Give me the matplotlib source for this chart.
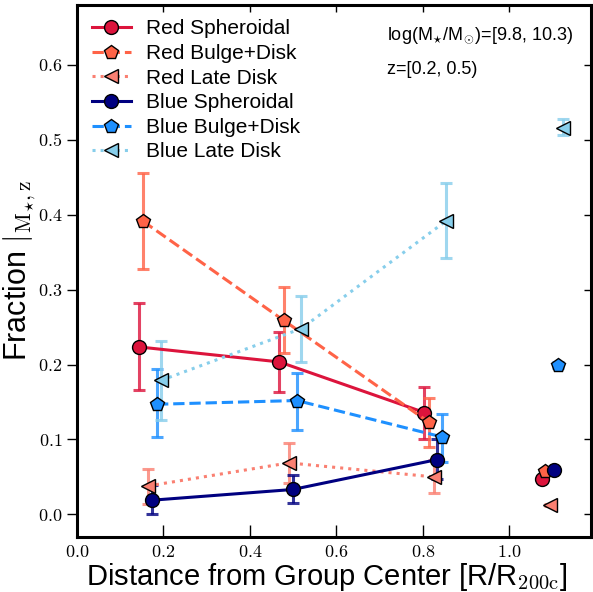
import matplotlib
matplotlib.use("Agg")
import matplotlib.pyplot as plt
from matplotlib.ticker import FuncFormatter, MultipleLocator

plt.rcParams["font.family"] = ["Liberation Sans", "DejaVu Sans"]
plt.rcParams["mathtext.fontset"] = "cm"

# Group-member bins (R/R200c) and fractions with error bounds
red_sph_x = [0.143, 0.468, 0.804]
red_sph_y = [0.2235, 0.2035, 0.136]
red_sph_lo = [0.166, 0.163, 0.100]
red_sph_hi = [0.282, 0.2435, 0.170]

red_bd_x = [0.153, 0.478, 0.815]
red_bd_y = [0.391, 0.259, 0.1227]
red_bd_lo = [0.327, 0.215, 0.090]
red_bd_hi = [0.456, 0.303, 0.155]

red_late_x = [0.164, 0.490, 0.827]
red_late_y = [0.038, 0.0688, 0.050]
red_late_lo = [0.0137, 0.042, 0.029]
red_late_hi = [0.060, 0.0947, 0.072]

blue_sph_x = [0.173, 0.499, 0.834]
blue_sph_y = [0.019, 0.0333, 0.0733]
blue_sph_lo = [0.0, 0.0147, 0.047]
blue_sph_hi = [0.039, 0.052, 0.101]

blue_bd_x = [0.185, 0.509, 0.844]
blue_bd_y = [0.147, 0.152, 0.1035]
blue_bd_lo = [0.103, 0.113, 0.070]
blue_bd_hi = [0.194, 0.189, 0.134]

blue_late_x = [0.195, 0.519, 0.855]
blue_late_y = [0.179, 0.248, 0.392]
blue_late_lo = [0.126, 0.2035, 0.342]
blue_late_hi = [0.232, 0.292, 0.442]

# Field values, shown to the right of the group bins
field_x = [1.075, 1.083, 1.095, 1.104, 1.114, 1.125]
field_y = [0.047, 0.058, 0.0124, 0.059, 0.199, 0.516]
field_lo = [0.045, 0.056, 0.0110, 0.057, 0.195, 0.506]
field_hi = [0.049, 0.060, 0.0138, 0.061, 0.203, 0.527]

labels = ["Red Spheroidal", "Red Bulge+Disk", "Red Late Disk",
          "Blue Spheroidal", "Blue Bulge+Disk", "Blue Late Disk"]
colors = ["#DC143C", "#FF6347", "#FA8072", "#000080", "#1E90FF", "#87CEEB"]
markers = ["o", "p", "<", "o", "p", "<"]
msizes = [10, 10, 10, 10, 10, 10]
styles = ["-", "--", ":", "-", "--", ":"]

series = [
    (red_sph_x, red_sph_y, red_sph_lo, red_sph_hi),
    (red_bd_x, red_bd_y, red_bd_lo, red_bd_hi),
    (red_late_x, red_late_y, red_late_lo, red_late_hi),
    (blue_sph_x, blue_sph_y, blue_sph_lo, blue_sph_hi),
    (blue_bd_x, blue_bd_y, blue_bd_lo, blue_bd_hi),
    (blue_late_x, blue_late_y, blue_late_lo, blue_late_hi),
]

fig = plt.figure(figsize=(5.93, 5.92), dpi=100)
ax = fig.add_axes([0.130, 0.093, 0.867, 0.899])

for i, (xs, ys, lo, hi) in enumerate(series):
    c = colors[i]
    yerr = [[y - l for y, l in zip(ys, lo)], [h - y for y, h in zip(ys, hi)]]
    ax.errorbar(xs, ys, yerr=yerr, fmt="none", ecolor=c, elinewidth=2.2,
                capsize=4, capthick=2.2, alpha=0.8, zorder=2 + i * 0.1)
    ferr = [[field_y[i] - field_lo[i]], [field_hi[i] - field_y[i]]]
    ax.errorbar([field_x[i]], [field_y[i]], yerr=ferr, fmt="none", ecolor=c,
                elinewidth=2.2, capsize=4, capthick=2.2, alpha=0.8,
                zorder=2 + i * 0.1)
    ax.plot(xs, ys, linestyle=styles[i], color=c, lw=2.2, marker=markers[i],
            ms=msizes[i], mfc=c, mec="black", mew=1.0, label=labels[i],
            zorder=4 + i * 0.1)
    ax.plot([field_x[i]], [field_y[i]], linestyle="none", marker=markers[i],
            ms=msizes[i], mfc=c, mec="black", mew=1.0, zorder=4 + i * 0.1)

ax.set_xlim(0, 1.19)
ax.set_ylim(-0.03, 0.68)
ax.xaxis.set_major_locator(MultipleLocator(0.2))
ax.yaxis.set_major_locator(MultipleLocator(0.1))
fmt = FuncFormatter(lambda v, p: r"$%.1f$" % v)
ax.xaxis.set_major_formatter(fmt)
ax.yaxis.set_major_formatter(fmt)

for s in ax.spines.values():
    s.set_linewidth(2.2)

ax.tick_params(axis="x", direction="in", length=9, width=1, labelsize=13,
               top=False, pad=5)
ax.tick_params(axis="y", direction="out", length=7, width=1, labelsize=13,
               right=False)

top = ax.secondary_xaxis("top")
top.xaxis.set_major_locator(MultipleLocator(0.2))
top.tick_params(direction="in", length=5, width=1, labeltop=False)
right = ax.secondary_yaxis("right")
right.yaxis.set_major_locator(MultipleLocator(0.1))
right.tick_params(direction="in", length=5, width=1, labelright=False)
for sec in (top, right):
    for s in sec.spines.values():
        s.set_visible(False)

ax.set_xlabel(r"Distance from Group Center [R/R$_{\rm 200c}$]", fontsize=21,
              labelpad=0)
ax.xaxis.label.set_x(0.486)
ax.set_ylabel(r"Fraction $|_{\rm M_{\star},z}$", fontsize=22, labelpad=0)

ax.text(0.603, 0.933, r"log(M$_{\star}$/M$_{\odot}$)=[9.8, 10.3)",
        transform=ax.transAxes, fontsize=13, va="baseline")
ax.text(0.603, 0.870, "z=[0.2, 0.5)", transform=ax.transAxes,
        fontsize=13, va="baseline")

ax.legend(loc="upper left", frameon=False, fontsize=15, handlelength=1.9,
          handletextpad=0.7, labelspacing=0.27, numpoints=1,
          borderaxespad=0.4, borderpad=0.3)

fig.savefig("out.png", dpi=100)
